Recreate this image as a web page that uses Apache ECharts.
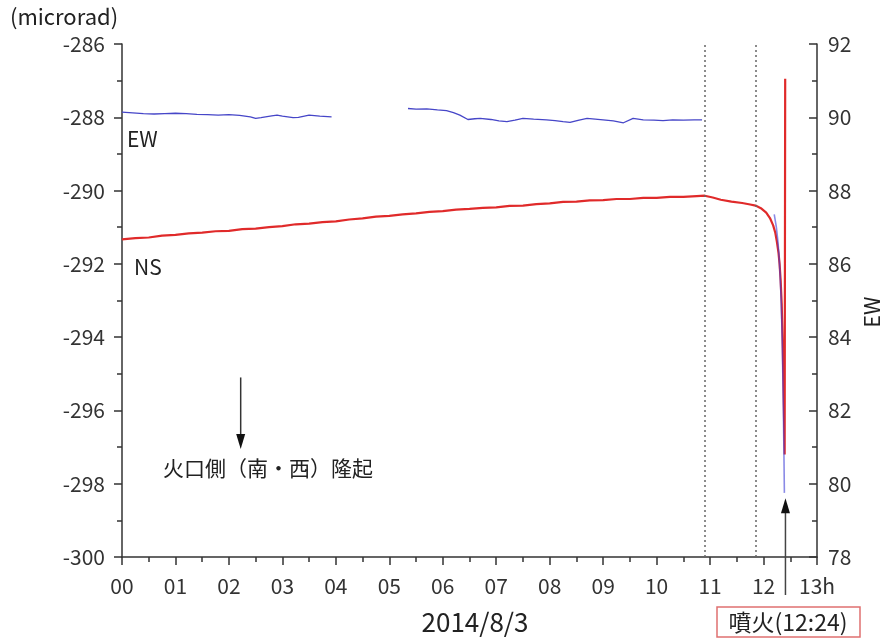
<!DOCTYPE html>
<html><head><meta charset="utf-8">
<script src="https://cdn.jsdelivr.net/npm/echarts@6/dist/echarts.min.js"></script>
<style>html,body{margin:0;padding:0;background:#fff}#c{width:884px;height:639px}</style>
</head><body><div id="c"></div>
<script>
// ---- data (hours since 00:00, 2014/8/3) ----
const nsHours = [0,0.25,0.5,0.75,1,1.25,1.5,1.75,2,2.25,2.5,2.75,3,3.25,3.5,3.75,4,4.25,4.5,4.75,5,5.25,5.5,5.75,6,6.25,6.5,6.75,7,7.25,7.5,7.75,8,8.25,8.5,8.75,9,9.25,9.5,9.75,10,10.25,10.5,10.75,10.9,11.05,11.2,11.4,11.6,11.75,11.85,11.95,12.05,12.12,12.18,12.22,12.25,12.28,12.3,12.32,12.34,12.36,12.38,12.395,12.405];
const nsValues = [-291.33,-291.30,-291.28,-291.23,-291.21,-291.17,-291.15,-291.11,-291.10,-291.05,-291.04,-291.00,-290.97,-290.92,-290.90,-290.86,-290.84,-290.79,-290.76,-290.71,-290.69,-290.65,-290.62,-290.58,-290.56,-290.52,-290.50,-290.47,-290.46,-290.42,-290.41,-290.37,-290.35,-290.31,-290.30,-290.27,-290.26,-290.23,-290.23,-290.20,-290.20,-290.17,-290.17,-290.15,-290.14,-290.19,-290.25,-290.30,-290.34,-290.38,-290.41,-290.48,-290.60,-290.75,-290.95,-291.15,-291.40,-291.70,-292.00,-292.45,-293.10,-294.30,-295.90,-297.20,-286.95];

const ewHoursEarly = [0,0.2,0.4,0.6,0.8,1.0,1.2,1.4,1.6,1.8,2.0,2.2,2.4,2.5,2.6,2.8,2.9,3.0,3.2,3.3,3.5,3.7,3.92,4.6,5.35,5.5,5.7,5.9,6.07,6.2,6.32,6.47,6.6,6.7,6.9,7.05,7.2,7.35,7.5,7.7,7.94,8.1,8.25,8.38,8.55,8.7,8.85,9.0,9.19,9.38,9.56,9.75,9.95,10.12,10.3,10.5,10.7,10.85];
const ewValuesEarly = [90.14,90.12,90.10,90.09,90.10,90.11,90.10,90.08,90.07,90.06,90.07,90.05,90.01,89.97,89.99,90.04,90.06,90.03,89.99,90.00,90.06,90.03,90.01,null,90.24,90.22,90.23,90.20,90.18,90.13,90.06,89.94,89.96,89.97,89.94,89.90,89.88,89.92,89.97,89.95,89.93,89.91,89.88,89.86,89.92,89.97,89.95,89.93,89.90,89.85,89.97,89.93,89.92,89.91,89.93,89.92,89.93,89.93];

const ewHoursLate = [12.20,12.24,12.27,12.29,12.31,12.33,12.35,12.37,12.38,12.39];
const ewValuesLate = [87.35,87.00,86.60,86.20,85.70,85.00,83.90,82.10,81.00,79.75];

const xTickLabels = ['00','01','02','03','04','05','06','07','08','09','10','11','12','13h'];
const markerHours = [10.9, 11.85];

const zip = (a, b) => a.map((v, i) => [v, b[i]]);

const chart = echarts.init(document.getElementById('c'));
const FONT = '"Noto Sans CJK JP","Noto Sans",sans-serif';
const AX = '#333';
const axisCommon = {
  axisLine: {show: true, lineStyle: {color: AX, width: 1.5}},
  splitLine: {show: false},
  axisLabel: {color: '#333', fontSize: 21, fontFamily: FONT},
};

chart.setOption({
  animation: false,
  backgroundColor: '#fff',
  grid: {left: 122, right: 67, top: 44, bottom: 82},
  xAxis: {
    type: 'value', min: 0, max: 13, interval: 1,
    ...axisCommon,
    axisTick: {show: true, length: 8, lineStyle: {color: AX, width: 1.5}},
    minorTick: {show: true, splitNumber: 2, length: 5, lineStyle: {color: AX, width: 1.5}},
    axisLabel: {...axisCommon.axisLabel, margin: 19, formatter: v => xTickLabels[v] || ''},
  },
  yAxis: [{
    type: 'value', min: -300, max: -286, interval: 2, position: 'left',
    ...axisCommon,
    axisTick: {show: true, length: 8, lineStyle: {color: AX, width: 1.5}},
    minorTick: {show: true, splitNumber: 2, length: 5, lineStyle: {color: AX, width: 1.5}},
    axisLabel: {...axisCommon.axisLabel, margin: 17},
  }, {
    type: 'value', min: 78, max: 92, interval: 2, position: 'right',
    ...axisCommon,
    axisTick: {show: true, inside: true, length: 8, lineStyle: {color: AX, width: 1.5}},
    minorTick: {show: true, splitNumber: 2, length: 5, lineStyle: {color: AX, width: 1.5}},
    axisLabel: {...axisCommon.axisLabel, margin: 11},
  }],
  series: [{
    name: 'NS', type: 'line', yAxisIndex: 0, showSymbol: false, symbol: 'none',
    data: zip(nsHours, nsValues),
    lineStyle: {color: '#e02a2a', width: 2.2},
    markLine: {
      silent: true, symbol: 'none', label: {show: false},
      lineStyle: {color: '#666', type: [2, 3], width: 1.5},
      data: markerHours.map(h => ({xAxis: h}))
    },
    z: 2
  }, {
    name: 'EW', type: 'line', yAxisIndex: 1, showSymbol: false, symbol: 'none',
    connectNulls: false,
    data: zip(ewHoursEarly, ewValuesEarly),
    lineStyle: {color: '#4646c8', width: 1.3},
    z: 3
  }, {
    name: 'EW2', type: 'line', yAxisIndex: 1, showSymbol: false, symbol: 'none',
    data: zip(ewHoursLate, ewValuesLate),
    lineStyle: {color: '#3c3cd6', width: 1.6, opacity: 0.6},
    z: 4
  }]
});

// annotations placed through the chart's scales
const px = (h, v, yi) => chart.convertToPixel({xAxisIndex: 0, yAxisIndex: yi}, [h, v]);
const a1top = px(2.22, -295.1, 0), a1bot = px(2.22, -297.05, 0);
const eTip = px(12.41, -298.4, 0);
const eBottomY = 595;
const arrowHead = (x, y, dir) => ({
  type: 'polygon', shape: {points: [[x, y], [x - 4.5, y - dir * 15], [x + 4.5, y - dir * 15]]},
  style: {fill: '#111'}, z: 10
});
const txt = (t, x, y, size, extra) => Object.assign({
  type: 'text', x, y, z: 10,
  style: Object.assign({text: t, fill: '#222', font: size + 'px ' + FONT, textAlign: 'left', textVerticalAlign: 'middle'}, extra || {})
});

chart.setOption({
  graphic: [
    txt('(microrad)', 10, 17, 22),
    txt('EW', 127, 139, 21),
    txt('NS', 134, 267, 21),
    txt('火口側（南・西）隆起', 163, 468, 21),
    txt('2014/8/3', 475, 622, 26, {textAlign: 'center'}),
    Object.assign(txt('EW', 0, 0, 21, {textAlign: 'center'}), {x: 872, y: 312, rotation: Math.PI / 2}),
    {type: 'line', shape: {x1: a1top[0], y1: a1top[1], x2: a1bot[0], y2: a1bot[1] - 10}, style: {stroke: '#333', lineWidth: 1.5}, z: 10},
    arrowHead(a1bot[0], a1bot[1], 1),
    {type: 'line', shape: {x1: eTip[0], y1: eBottomY, x2: eTip[0], y2: eTip[1] + 10}, style: {stroke: '#444', lineWidth: 1.5}, z: 10},
    arrowHead(eTip[0], eTip[1], -1),
    {type: 'rect', shape: {x: 717, y: 607, width: 143, height: 30}, style: {fill: '#fff', stroke: '#e07070', lineWidth: 1.5}, z: 9},
    txt('噴火(12:24)', 788, 622, 23, {textAlign: 'center'})
  ]
});
</script></body></html>
